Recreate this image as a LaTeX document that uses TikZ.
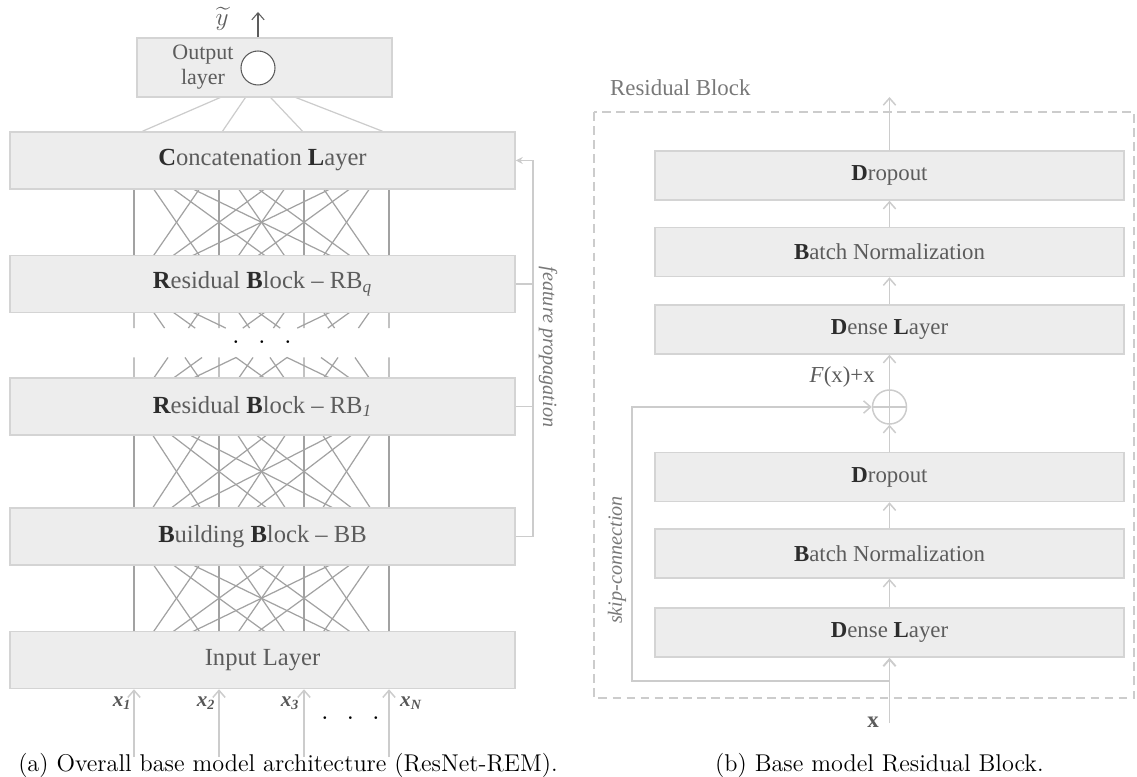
\documentclass[tikz,border=0pt]{standalone}
\usepackage{fontspec}
\usepackage{amsmath}
\usetikzlibrary{arrows.meta,positioning,calc,backgrounds}
\newfontfamily\garfont[Ligatures=TeX]{Liberation Serif}

\definecolor{boxfill}{RGB}{237,237,237}
\definecolor{boxline}{RGB}{212,212,212}
\definecolor{netline}{RGB}{162,162,162}
\definecolor{lightline}{RGB}{204,204,204}
\definecolor{txtgray}{RGB}{92,92,92}
\definecolor{txtdark}{RGB}{44,44,44}
\definecolor{titlegray}{RGB}{120,120,120}

\newcommand{\bletter}[1]{\textbf{\color{txtdark}#1}}

\tikzset{
  layerbox/.style={draw=boxline, line width=0.85pt, fill=boxfill, rectangle, minimum width=10.1cm, minimum height=1.14cm, text=txtgray, font=\garfont\fontsize{14}{16}\selectfont},
  rbbox/.style={layerbox, minimum width=9.38cm, minimum height=0.98cm, font=\garfont\fontsize{13}{15}\selectfont},
  net/.style={draw=netline, line width=0.7pt},
  outline/.style={draw=lightline, line width=0.7pt},
  arrline/.style={draw=lightline, line width=0.85pt, -{Straight Barb[length=4pt,width=7pt]}},
  sidetxt/.style={text=titlegray, font=\garfont\itshape\fontsize{11.5}{13}\selectfont},
  xlab/.style={text=txtdark!80, font=\garfont\bfseries\itshape\fontsize{12}{14}\selectfont},
  captxt/.style={font=\fontsize{13.8}{16}\selectfont},
}

\begin{document}
\begin{tikzpicture}
\useasboundingbox (0,0) rectangle (22.74,-15.54);

% left: overall architecture
\node[draw=boxline, line width=0.85pt, fill=boxfill, minimum width=5.1cm, minimum height=1.18cm] (outbox) at (5.29,-1.35) {};
\node[circle, draw=txtgray, fill=white, line width=0.6pt, minimum size=0.68cm, inner sep=0pt] (outc) at (5.16,-1.36) {};
\node[align=center, text=txtgray, font=\garfont\fontsize{12.5}{14.2}\selectfont] (outtxt) at (4.06,-1.34) {Output\\layer};
\node[text=txtgray, font=\fontsize{15}{17}\selectfont] (ytl) at (4.44,-0.38) {$\widetilde{y}$};
\coordinate (yout) at (5.16,-0.24);
\coordinate (outsrc) at (5.12,-1.64);
%============
\node[layerbox] (cat) at (5.25,-3.21) {\bletter{C}oncatenation \bletter{L}ayer};
\node[layerbox, below of=cat, node distance=2.47cm] (rbq) {\bletter{R}esidual \bletter{B}lock \textendash{} RB\textsubscript{\textit{q}}};
\node[layerbox, below of=rbq, node distance=2.45cm] (rbo) {\bletter{R}esidual \bletter{B}lock \textendash{} RB\textsubscript{\textit{1}}};
\node[layerbox, below of=rbo, node distance=2.6cm] (bb) {\bletter{B}uilding \bletter{B}lock \textendash{} BB};
\node[layerbox, below of=bb, node distance=2.47cm] (inp) {Input Layer};
%============
\foreach \L in {cat,rbq,rbo,bb,inp}
  \foreach \n/\dx in {1/-2.57,2/-0.87,3/0.83,4/2.53}
    \coordinate (\L-\n) at ($(\L.center)+(\dx,0)$);

\begin{pgfonlayer}{background}
  \foreach \A/\B in {cat/rbq,rbo/bb,bb/inp}
    \foreach \i in {1,...,4}
      \foreach \j in {1,...,4}
        \draw[net] (\A-\i) -- (\B-\j);
  \foreach \i in {1,...,4}
    \foreach \j in {1,...,4}{
      \draw[net] (rbq-\i) -- ($(rbq-\i)!0.36!(rbo-\j)$);
      \draw[net] ($(rbq-\i)!0.6!(rbo-\j)$) -- (rbo-\j);
    }
  \foreach \dx in {-2.4,-0.8,0.8,2.4}
    \draw[outline] (outsrc) -- ($(cat.north)+(\dx,0)$);
\end{pgfonlayer}

\draw[->, draw=txtgray, line width=0.6pt, >={Straight Barb[length=4pt,width=7pt]}] (outc |- outbox.north) -- (yout);
\node[font=\bfseries] (middots) at (5.24,-6.84) {\makebox[0.52cm]{.}\makebox[0.52cm]{.}\makebox[0.52cm]{.}};

% inputs
\foreach \i in {1,...,4}{
  \coordinate (xin-\i) at ($(inp-\i)+(0,-1.94)$);
  \draw[arrline] (xin-\i) -- (inp-\i |- inp.south);
}
\node[xlab] (lx1) at (2.44,-14.06) {x\textsubscript{1}};
\node[xlab] (lx2) at (4.12,-14.06) {x\textsubscript{2}};
\node[xlab] (lx3) at (5.80,-14.06) {x\textsubscript{3}};
\node[xlab] (lxn) at (8.22,-14.06) {x\textsubscript{N}};
\node[font=\bfseries] (indots) at (7.01,-14.36) {\makebox[0.51cm]{.}\makebox[0.51cm]{.}\makebox[0.51cm]{.}};

% feature propagation
\coordinate (fpx) at (10.66,0);
\draw[draw=lightline, line width=0.85pt] (rbq.east) -- (rbq.east -| fpx);
\draw[draw=lightline, line width=0.85pt] (rbo.east) -- (rbo.east -| fpx);
\draw[draw=lightline, line width=0.85pt, -{Stealth[length=4pt,width=4pt]}] (bb.east) -- (bb.east -| fpx) -- (cat.east -| fpx) -- (cat.east);
\node[sidetxt, rotate=-90] (fptxt) at (10.96,-6.94) {feature propagation};

% right: residual block
\node[anchor=west, text=titlegray, font=\garfont\fontsize{13}{15}\selectfont] (rbtitle) at (12.08,-1.76) {Residual Block};
\draw[draw=lightline, line width=0.85pt, dash pattern=on 5pt off 3pt] (11.88,-2.24) rectangle (22.68,-13.96);

\node[rbbox] (drop1) at (17.79,-3.51) {\bletter{D}ropout};
\node[rbbox, below of=drop1, node distance=1.53cm] (bn1) {\bletter{B}atch Normalization};
\node[rbbox, below of=bn1, node distance=1.55cm] (dense1) {\bletter{D}ense \bletter{L}ayer};
\node[circle, draw=lightline, line width=0.85pt, minimum size=0.68cm, inner sep=0pt] (plus) at (17.79,-8.14) {};
\draw[draw=lightline, line width=0.85pt] (plus.north) -- (plus.south) (plus.west) -- (plus.east);
\node[rbbox] (drop2) at (17.79,-9.54) {\bletter{D}ropout};
\node[rbbox, below of=drop2, node distance=1.53cm] (bn2) {\bletter{B}atch Normalization};
\node[rbbox, below of=bn2, node distance=1.58cm] (dense2) {\bletter{D}ense \bletter{L}ayer};
%==========
\coordinate (rbout) at (17.79,-1.94);
\coordinate (rbin) at (17.79,-14.46);
\coordinate (skipx) at (12.64,-13.62);
\draw[arrline] (drop1.north) -- (rbout);
\draw[arrline] (bn1.north) -- (drop1.south);
\draw[arrline] (dense1.north) -- (bn1.south);
\draw[arrline] (plus.north) -- (dense1.south);
\draw[arrline] (drop2.north) -- (plus.south);
\draw[arrline] (bn2.north) -- (drop2.south);
\draw[arrline] (dense2.north) -- (bn2.south);
\draw[arrline, line width=1.1pt] (rbin) -- (dense2.south);
\draw[arrline] (rbin |- skipx) -- (skipx) |- (plus.west);

\node[sidetxt, rotate=90] (skiptxt) at (12.34,-11.2) {skip-connection};
\node[anchor=east, text=txtgray, font=\garfont\fontsize{13}{15}\selectfont] (fxx) at (17.62,-7.54) {\textit{F}(x)+x};
\node[text=txtgray, font=\garfont\bfseries\fontsize{13}{15}\selectfont] (xlbl) at (17.46,-14.44) {x};

% captions
\node[captxt] (capa) at (5.76,-15.3) {(a) Overall base model architecture (ResNet-REM).};
\node[captxt, anchor=west] (capb) at (14.18,-15.3) {(b) Base model Residual Block.};
\end{tikzpicture}
\end{document}
